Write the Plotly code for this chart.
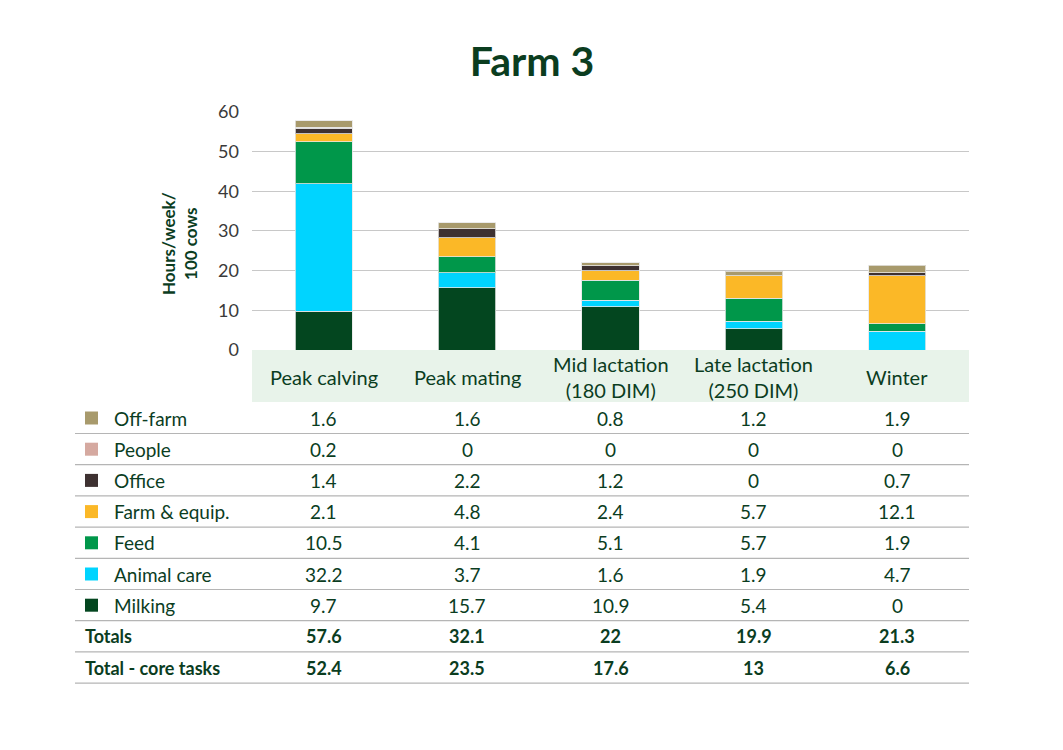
import plotly.graph_objects as go

# Data
periods = ['Peak calving', 'Peak mating', 'Mid lactation<br>(180 DIM)',
           'Late lactation<br>(250 DIM)', 'Winter']

milking = [9.7, 15.7, 10.9, 5.4, 0]
animal_care = [32.2, 3.7, 1.6, 1.9, 4.7]
feed = [10.5, 4.1, 5.1, 5.7, 1.9]
farm_equip = [2.1, 4.8, 2.4, 5.7, 12.1]
office = [1.4, 2.2, 1.2, 0, 0.7]
people = [0.2, 0, 0, 0, 0]
off_farm = [1.6, 1.6, 0.8, 1.2, 1.9]

totals = [57.6, 32.1, 22, 19.9, 21.3]
core_totals = [52.4, 23.5, 17.6, 13, 6.6]

# stacking order bottom -> top
series = [
    ('Milking', milking, '#03461f'),
    ('Animal care', animal_care, '#00d4ff'),
    ('Feed', feed, '#00974a'),
    ('Farm & equip.', farm_equip, '#fbb827'),
    ('Office', office, '#3e3131'),
    ('People', people, '#d5a9a0'),
    ('Off-farm', off_farm, '#a89a6c'),
]

W, H = 1063, 750
OFF = 8  # page body margin shifts the figure
DARK = '#0b3d1f'
FONT = 'Lato'
FS = 19


def px_x(v):
    return (v - OFF) / W


def px_y(v):
    return 1 - (v - OFF) / H


def label(text, x, y, xref='paper', xanchor='center', size=FS, **kw):
    fig.add_annotation(text=text, x=x, y=y, xref=xref, yref='paper',
                       xanchor=xanchor, yanchor='middle', showarrow=False,
                       font=dict(size=size, color=DARK, family=FONT), **kw)


fig = go.Figure()
for name, vals, col in series:
    fig.add_trace(go.Bar(x=periods, y=vals, name=name, marker_color=col,
                         marker_line=dict(color='rgba(230,230,230,0.8)', width=1),
                         width=0.4))

fig.update_layout(
    width=W, height=H,
    barmode='stack',
    showlegend=False,
    plot_bgcolor='white',
    paper_bgcolor='white',
    margin=dict(l=0, r=0, t=0, b=0, autoexpand=False),
    font=dict(family=FONT, color=DARK),
    title=dict(text='<b>Farm 3</b>', x=px_x(532), xanchor='center',
               y=px_y(62), yanchor='middle',
               font=dict(size=41, color=DARK, family=FONT)),
    xaxis=dict(domain=[px_x(252), px_x(969)], showticklabels=False,
               showgrid=False, zeroline=False, showline=False),
    yaxis=dict(domain=[px_y(350), px_y(111)], range=[0, 60.2],
               tickvals=[0, 10, 20, 30, 40, 50, 60],
               tickfont=dict(size=18, color='#3a3a3a', family=FONT),
               gridcolor='#c8c8c8', gridwidth=1, zeroline=False,
               ticks='', ticklabelstandoff=12),
)

# y-axis title
label('<b>Hours/week/<br>100 cows</b>', px_x(179), px_y(244), size=17, textangle=-90)

# header band behind the category labels
fig.add_shape(type='rect', xref='paper', yref='paper',
              x0=px_x(252), x1=px_x(969), y0=px_y(402), y1=px_y(350),
              fillcolor='#e8f3ea', line_width=0, layer='below')

for p in periods:
    label(p, p, px_y(377), xref='x', size=20)

# table rows (top row is the last series)
row_h = 31.2
row_y0 = 418
for i, (name, vals, col) in enumerate(reversed(series)):
    yc = row_y0 + i * row_h
    fig.add_shape(type='rect', xref='paper', yref='paper',
                  x0=px_x(85), x1=px_x(98), y0=px_y(yc + 6.5), y1=px_y(yc - 6.5),
                  fillcolor=col, line_width=0)
    label(name, px_x(112), px_y(yc), xanchor='left')
    for p, v in zip(periods, vals):
        label(f'{v:g}', p, px_y(yc), xref='x')

extra = [('Totals', totals), ('Total - core tasks', core_totals)]
for j, (name, vals) in enumerate(extra):
    yc = row_y0 + (len(series) + j) * row_h
    label(f'<b>{name}</b>', px_x(83), px_y(yc), xanchor='left', size=18)
    for p, v in zip(periods, vals):
        label(f'<b>{v:g}</b>', p, px_y(yc), xref='x', size=18)

# separator lines
for k in range(len(series) + len(extra)):
    ly = row_y0 + 15.5 + k * row_h
    fig.add_shape(type='line', xref='paper', yref='paper',
                  x0=px_x(75), x1=px_x(969), y0=px_y(ly), y1=px_y(ly),
                  line=dict(color='#b5b5b5', width=1.2))

fig.write_html('out.html')
